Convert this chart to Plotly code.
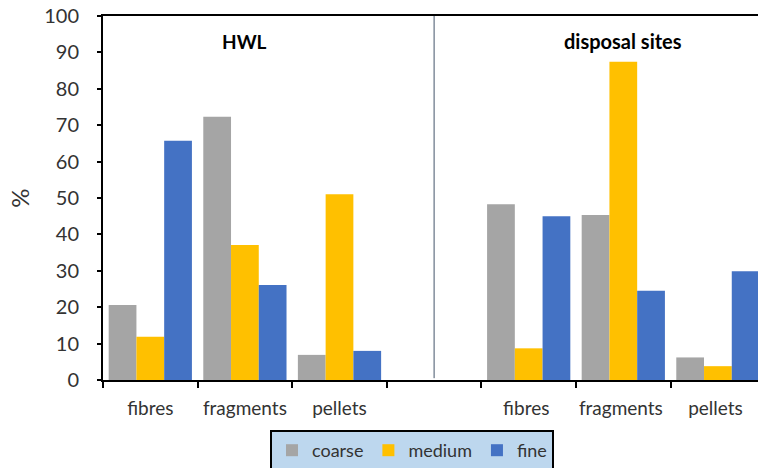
import plotly.graph_objects as go

categories = ["fibres", "fragments", "pellets", " ", "fibres ", "fragments ", "pellets "]
coarse = [20.6, 72.3, 6.9, None, 48.3, 45.3, 6.2]
medium = [11.9, 37.1, 51.0, None, 8.7, 87.4, 3.8]
fine = [65.7, 26.1, 8.0, None, 45.0, 24.5, 29.9]
series_names = ["coarse", "medium", "fine"]
colors = ["#A5A5A5", "#FFC000", "#4472C4"]
panel_titles = ["HWL", "disposal sites"]

fig = go.Figure()
for name, vals, col in zip(series_names, [coarse, medium, fine], colors):
    fig.add_trace(go.Bar(x=categories, y=vals, name=name, marker_color=col,
                         marker_line_width=0))

font_family = "Lato, Carlito, Calibri, sans-serif"
W, H = 758, 468
ml, mt, mb = 103, 16, 88
pw = W - ml
ph = H - mt - mb
fig.update_layout(
    width=W, height=H,
    margin=dict(l=ml, r=0, t=mt, b=mb, autoexpand=False),
    plot_bgcolor="white", paper_bgcolor="white",
    barmode="group", bargap=0.12, bargroupgap=0,
    font=dict(family=font_family, size=18, color="#333333"),
    showlegend=True,
    legend=dict(orientation="h", x=(270 - ml) / pw, xanchor="left",
                y=-(430 - (H - mb)) / ph, yanchor="top",
                bgcolor="#BDD7EE", bordercolor="black", borderwidth=2,
                font=dict(size=18, color="#333333"), itemwidth=30,
                tracegroupgap=0),
    xaxis=dict(type="category", categoryorder="array", categoryarray=categories,
               range=[-0.5, -0.5 + pw / 94.6],
               showline=True, linecolor="black", linewidth=2, mirror=True,
               ticks="outside", tickson="boundaries", ticklen=6, tickcolor="black",
               tickwidth=2, showgrid=False, tickfont=dict(size=19), tickangle=0,
               ticklabeloverflow="allow",
               ticklabelstandoff=10, automargin=False),
    yaxis=dict(range=[0, 100], dtick=10, showline=True, linecolor="black", linewidth=2,
               ticks="outside", ticklen=4, tickcolor="black", tickwidth=2,
               showgrid=False, zeroline=False, tickfont=dict(size=20),
               ticklabelstandoff=14, automargin=False, ticklabeloverflow="allow",
               title=dict(text="%", font=dict(size=24), standoff=8)),
)

fig.add_shape(type="line", xref="x", yref="y", x0=3, x1=3, y0=0.5, y1=100,
              line=dict(color="#44546A", width=1))

fig.add_annotation(x=1, y=93, xref="x", yref="y", text="<b>" + panel_titles[0] + "</b>",
                   showarrow=False, font=dict(size=19, color="black"))
fig.add_annotation(x=5, y=93, xref="x", yref="y", text="<b>" + panel_titles[1] + "</b>",
                   showarrow=False, font=dict(size=20, color="black"))

fig.write_html("out.html", config={"displayModeBar": False},
               post_script="document.body.style.margin='0';document.body.style.overflow='hidden';")
